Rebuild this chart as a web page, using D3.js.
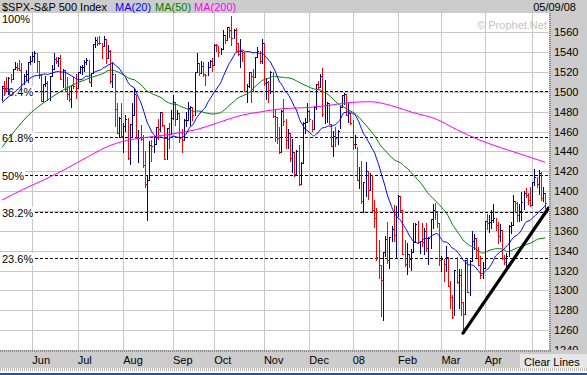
<!DOCTYPE html>
<html>
<head>
<meta charset="utf-8">
<script src="https://cdn.jsdelivr.net/npm/d3@7"></script>
<style>
  body { margin: 0; background: #fff; }
  svg { display: block; font-family: "Liberation Sans", Arial, sans-serif; }
</style>
</head>
<body>
<svg width="587" height="375"></svg>
<script>
// Daily S&P 500 bars, 05/11/07 .. 05/09/08 (one row per month)
const closes = [
  1505.85,1503.15,1501.19,1514.14,1512.75,1522.75,1525.10,1524.12,1522.28,1507.51,1515.73,1518.11,1530.23,1530.62,
  1536.34,1539.18,1530.95,1517.38,1490.72,1507.67,1509.12,1493.00,1515.67,1522.97,1532.91,1531.05,1533.70,1512.84,1522.19,1502.56,1497.74,1492.89,1506.34,1505.71,1503.35,
  1519.43,1524.87,1525.40,1530.44,1531.85,1510.12,1518.76,1547.70,1552.50,1549.52,1549.37,1546.17,1553.08,1534.10,1541.57,1511.04,1518.09,1482.66,1458.95,1473.91,1455.27,
  1465.81,1472.20,1433.06,1467.67,1476.71,1497.49,1453.09,1453.64,1452.92,1426.54,1406.70,1411.27,1445.94,1445.55,1447.12,1464.07,1462.50,1479.37,1466.79,1432.36,1463.76,1457.64,1473.99,
  1489.42,1472.29,1478.55,1453.55,1451.70,1471.49,1471.56,1483.95,1484.25,1476.65,1519.78,1529.03,1518.75,1525.75,1517.73,1517.21,1525.42,1531.38,1526.75,
  1547.04,1546.63,1539.59,1542.84,1557.59,1552.58,1565.15,1562.47,1554.41,1561.80,1548.71,1538.53,1541.24,1540.08,1500.63,1506.33,1519.59,1515.88,1514.40,1535.28,1540.98,1531.02,1549.38,
  1508.44,1509.65,1502.17,1520.27,1475.62,1474.77,1453.70,1439.18,1481.05,1470.58,1451.15,1458.74,1433.27,1439.70,1416.77,1440.70,1407.22,1428.23,1469.02,1469.72,1481.14,
  1472.42,1462.79,1485.01,1507.34,1504.66,1515.96,1477.65,1486.59,1488.41,1467.95,1445.90,1454.98,1453.00,1460.12,1484.46,1496.45,1497.66,1476.27,1478.49,1468.36,
  1447.16,1447.16,1411.63,1416.18,1390.19,1409.13,1420.33,1401.02,1416.25,1380.95,1373.20,1333.25,1325.19,1310.50,1338.60,1352.07,1330.61,1353.96,1362.30,1355.81,1378.55,
  1395.42,1380.82,1336.64,1326.45,1336.91,1331.29,1339.13,1348.86,1367.21,1348.86,1349.99,1348.78,1360.03,1342.53,1353.11,1371.80,1381.29,1380.02,1367.68,1330.63,
  1331.34,1326.75,1333.70,1304.34,1293.37,1273.37,1320.65,1308.77,1315.48,1288.14,1276.60,1330.74,1298.42,1329.51,1349.88,1352.99,1341.13,1325.76,1315.22,1322.70,
  1370.18,1367.53,1369.31,1370.40,1372.54,1365.54,1354.49,1360.55,1332.83,1328.32,1334.43,1364.71,1365.56,1390.33,1388.17,1375.94,1379.93,1388.82,1397.84,1396.37,1390.94,1385.59,
  1409.34,1413.90,1407.49,1418.26,1392.57,1397.68,1388.28
];
const highs = [
  1506.0,1510.9,1514.8,1514.8,1517.8,1522.8,1529.9,1529.2,1532.4,1529.3,1517.7,1521.8,1530.2,1535.6,
  1540.5,1540.6,1539.2,1530.9,1517.4,1507.8,1515.5,1511.3,1515.7,1526.5,1538.7,1535.4,1535.4,1537.3,1522.9,1522.2,1514.6,1506.1,1506.3,1514.8,1517.5,
  1519.5,1526.0,1526.8,1532.4,1534.3,1531.9,1519.4,1547.9,1555.1,1555.2,1555.9,1549.4,1555.9,1553.1,1547.2,1541.6,1530.4,1518.1,1488.5,1474.4,1488.3,
  1468.4,1476.4,1473.2,1467.7,1488.3,1503.9,1497.2,1462.0,1466.3,1456.7,1440.8,1416.0,1450.3,1451.8,1455.6,1464.7,1472.1,1479.4,1479.4,1466.3,1463.8,1468.4,1481.5,
  1496.4,1489.4,1481.5,1478.6,1462.8,1472.1,1479.5,1489.6,1486.0,1484.2,1519.9,1538.7,1529.0,1530.9,1530.2,1518.2,1529.7,1532.5,1533.7,
  1548.0,1548.0,1546.6,1544.0,1561.9,1557.6,1565.4,1565.4,1576.09,1563.0,1564.7,1548.7,1553.3,1541.1,1540.1,1508.1,1520.4,1519.6,1523.2,1535.5,1544.7,1541.0,1552.8,
  1549.4,1513.7,1510.8,1521.0,1520.3,1482.5,1474.8,1464.9,1481.4,1492.8,1472.5,1462.2,1458.6,1452.4,1439.7,1440.9,1446.1,1429.5,1469.3,1473.8,1488.9,
  1481.2,1471.3,1486.1,1508.0,1510.6,1518.3,1523.6,1511.4,1489.4,1488.4,1468.0,1460.2,1464.4,1461.2,1485.4,1497.0,1498.9,1497.7,1488.6,1478.4,
  1471.8,1456.8,1444.0,1423.9,1430.3,1409.2,1429.1,1420.3,1417.9,1416.3,1391.0,1383.0,1350.3,1325.2,1339.1,1355.2,1368.6,1354.0,1364.6,1385.6,1385.0,
  1396.0,1395.4,1380.8,1351.0,1347.3,1336.9,1341.2,1368.0,1368.0,1370.0,1350.0,1367.9,1363.1,1367.9,1354.1,1372.0,1387.3,1388.2,1380.0,1367.7,
  1335.1,1331.3,1344.7,1333.7,1309.7,1295.0,1320.7,1333.3,1321.7,1321.5,1288.1,1330.7,1331.3,1330.7,1359.7,1357.2,1353.0,1344.2,1334.9,1328.5,
  1370.2,1377.0,1375.7,1380.9,1386.7,1372.5,1368.4,1367.2,1360.5,1335.6,1337.7,1365.5,1368.4,1395.9,1390.3,1389.1,1387.2,1399.1,1399.7,1402.9,1397.6,1404.6,
  1409.3,1422.7,1413.9,1421.6,1419.0,1404.6,1397.7
];
const lows = [
  1491.5,1498.3,1500.4,1498.0,1509.9,1512.8,1522.7,1522.1,1521.9,1505.2,1507.5,1512.0,1510.1,1528.3,
  1530.6,1530.3,1520.0,1514.1,1490.4,1490.7,1505.8,1492.1,1492.1,1515.7,1523.0,1529.3,1525.7,1512.4,1504.8,1500.7,1492.7,1490.5,1484.2,1503.4,1493.6,
  1503.4,1519.4,1517.7,1520.5,1527.5,1510.0,1506.1,1518.8,1544.9,1546.7,1547.7,1533.7,1546.2,1529.2,1534.1,1508.6,1504.6,1465.3,1458.9,1454.3,1454.3,
  1439.6,1460.6,1432.8,1427.4,1455.8,1476.7,1453.1,1429.7,1451.5,1423.9,1404.4,1370.6,1411.3,1430.5,1439.8,1447.1,1452.5,1460.3,1465.4,1432.0,1432.4,1443.6,1457.6,
  1472.2,1466.1,1472.3,1449.1,1439.3,1451.6,1465.8,1471.6,1466.6,1471.8,1476.7,1519.8,1516.9,1518.8,1516.2,1507.1,1517.2,1525.4,1521.0,
  1526.7,1540.7,1536.3,1537.6,1542.8,1549.0,1551.9,1555.5,1546.7,1554.4,1540.8,1537.3,1525.2,1531.1,1500.3,1489.6,1504.6,1489.6,1500.5,1514.4,1535.3,1529.3,1529.4,
  1507.3,1492.5,1489.6,1499.1,1475.0,1450.3,1448.5,1438.5,1439.2,1466.5,1443.5,1443.7,1430.7,1419.3,1415.5,1417.0,1406.1,1407.2,1428.2,1458.4,1469.7,
  1470.1,1460.7,1462.8,1482.2,1502.7,1504.7,1475.9,1468.2,1469.2,1467.4,1445.2,1435.1,1445.3,1447.5,1463.8,1484.5,1488.2,1476.2,1469.5,1467.7,
  1442.1,1443.7,1411.2,1403.5,1388.3,1378.7,1395.3,1392.4,1401.0,1380.0,1364.3,1330.7,1312.5,1274.3,1270.1,1334.3,1327.5,1322.3,1350.0,1350.2,1334.1,
  1375.0,1379.7,1336.6,1324.3,1316.8,1323.8,1320.3,1339.1,1348.9,1347.3,1338.1,1345.1,1336.9,1339.3,1326.5,1342.4,1363.3,1372.0,1364.3,1325.4,
  1320.0,1309.0,1320.0,1304.0,1282.4,1272.7,1274.9,1307.2,1282.4,1274.9,1256.98,1276.6,1298.4,1295.3,1329.5,1341.2,1333.7,1325.3,1312.9,1312.8,
  1322.7,1362.2,1358.7,1362.5,1369.0,1360.6,1348.1,1350.1,1331.2,1326.4,1324.4,1334.4,1357.5,1365.6,1379.3,1370.1,1369.8,1370.9,1382.1,1394.4,1386.7,1384.6,
  1385.7,1406.3,1404.6,1397.1,1391.2,1389.9,1383.1
];
const prevClose = 1491.47; // close before the first bar, sets its colour

// x axis: month labels at the first bar of each month
const monthLabels = ['Jun', 'Jul', 'Aug', 'Sep', 'Oct', 'Nov', 'Dec', '08', 'Feb', 'Mar', 'Apr', 'May'];
const monthStarts = [14, 35, 56, 79, 98, 121, 142, 162, 183, 203, 223, 245];
const yTicks = [1240, 1260, 1280, 1300, 1320, 1340, 1360, 1380, 1400, 1420, 1440, 1460, 1480, 1500, 1520, 1540, 1560];

// fibonacci retracement of the Oct high / Mar low
const fibRatios = [1, 0.764, 0.618, 0.5, 0.382, 0.236];
const fibLabels = ['100%', '76.4%', '61.8%', '50%', '38.2%', '23.6%'];

// moving average parts that need history before the first bar
const ma20HeadIdx = [0, 3, 6, 9, 12, 15, 18];
const ma20Head = [1489, 1495, 1500, 1506, 1512, 1516, 1517];
const ma50HeadIdx = [0, 6, 12, 18, 24, 30, 36, 42, 48];
const ma50Head = [1444, 1461, 1476, 1487, 1496, 1504, 1510, 1515, 1520];
const ma200Idx = [0, 10, 20, 30, 40, 50, 60, 70, 80, 90, 100, 110, 120, 130, 140, 150, 160, 170, 180, 190, 200, 210, 220, 230, 240, 251];
const ma200 = [1391, 1402, 1412, 1423, 1435, 1446, 1452, 1455, 1458, 1462, 1469, 1476, 1480, 1483, 1484, 1486, 1489, 1490, 1486, 1479, 1473, 1462, 1452, 1444, 1437, 1429];

// hand drawn trend line (bar index, price)
const trendIdx = [213, 252.5];
const trendVal = [1256.98, 1383];

// Layout
const svg = d3.select('svg');
const plot = { left: 0, right: 549, top: 13, bottom: 350 };
const buttonX = 520;
const x = d3.scaleLinear().domain([0, 251]).range([2, 545.3]);
const y = d3.scaleLinear().domain([1240, 1560]).range([350, 32.2]);
const px = v => Math.round(v) + 0.5;

svg.append('defs').append('clipPath').attr('id', 'clip')
    .append('rect')
    .attr('x', plot.left).attr('y', plot.top)
    .attr('width', plot.right - plot.left).attr('height', plot.bottom - plot.top);

// Grid
const grid = svg.append('g').attr('stroke', '#c8c8c8').attr('shape-rendering', 'crispEdges');
grid.selectAll('.hgrid')
    .data(yTicks.filter(v => v > 1240))
    .join('line')
    .attr('class', 'hgrid')
    .attr('x1', plot.left).attr('x2', plot.right)
    .attr('y1', d => px(y(d))).attr('y2', d => px(y(d)));
grid.selectAll('.vgrid')
    .data(monthStarts)
    .join('line')
    .attr('class', 'vgrid')
    .attr('x1', d => px(x(d))).attr('x2', d => px(x(d)))
    .attr('y1', plot.top).attr('y2', plot.bottom);

// Fibonacci levels
const hi = d3.max(highs);
const lo = d3.min(lows);
const fibData = fibRatios.map((r, k) => ({ label: fibLabels[k], yy: px(y(lo + r * (hi - lo))) }));
const fib = svg.append('g');
fib.selectAll('line')
    .data(fibData.filter(d => d.label !== '100%'))
    .join('line')
    .attr('x1', plot.left).attr('x2', plot.right)
    .attr('y1', d => d.yy).attr('y2', d => d.yy)
    .attr('stroke', '#000')
    .attr('stroke-dasharray', '3,2')
    .attr('shape-rendering', 'crispEdges');
const fibText = fib.selectAll('g.fl')
    .data(fibData)
    .join('g')
    .attr('class', 'fl');
fibText.append('text')
    .attr('x', 2)
    .attr('y', d => Math.max(d.yy + 4.5, 22.5))
    .attr('font-size', '11px')
    .attr('fill', '#000')
    .text(d => d.label);
fibText.each(function () {
    const g = d3.select(this);
    const b = g.select('text').node().getBBox();
    g.insert('rect', 'text')
        .attr('x', 0).attr('y', b.y)
        .attr('width', b.x + b.width + 1).attr('height', b.height)
        .attr('fill', '#fff');
});

// Price bars
const days = closes.map((c, i) => ({
    i: i, c: c, h: highs[i], l: lows[i],
    up: c >= (i ? closes[i - 1] : prevClose)
}));
const bars = svg.append('g')
    .attr('clip-path', 'url(#clip)')
    .attr('shape-rendering', 'crispEdges');
const bar = bars.selectAll('g')
    .data(days)
    .join('g')
    .attr('stroke', d => d.up ? '#000080' : '#ff0000');
bar.append('line')
    .attr('x1', d => px(x(d.i))).attr('x2', d => px(x(d.i)))
    .attr('y1', d => Math.round(y(d.h))).attr('y2', d => Math.round(y(d.l)) + 1);
bar.append('line')
    .attr('x1', d => px(x(d.i))).attr('x2', d => px(x(d.i)) + 1.5)
    .attr('y1', d => px(y(d.c))).attr('y2', d => px(y(d.c)));

// Moving averages
const movingAvg = (n, headIdx, head) => {
    const pts = headIdx.map((k, j) => [k, head[j]]);
    for (let i = n - 1; i < closes.length; i++) {
        pts.push([i, d3.mean(closes.slice(i - n + 1, i + 1))]);
    }
    return pts;
};
const maLine = d3.line()
    .x(d => x(d[0]))
    .y(d => y(d[1]))
    .curve(d3.curveMonotoneX);
const maSeries = [
    { pts: ma200Idx.map((k, j) => [k, ma200[j]]), color: '#ff00ff' },
    { pts: movingAvg(50, ma50HeadIdx, ma50Head), color: '#008000' },
    { pts: movingAvg(20, ma20HeadIdx, ma20Head), color: '#0000ff' }
];
svg.append('g')
    .attr('clip-path', 'url(#clip)')
    .selectAll('path')
    .data(maSeries)
    .join('path')
    .attr('d', d => maLine(d.pts))
    .attr('fill', 'none')
    .attr('stroke', d => d.color)
    .attr('stroke-width', 1);

// Trend line
svg.append('g')
    .attr('clip-path', 'url(#clip)')
    .append('path')
    .attr('d', d3.line()(trendIdx.map((k, j) => [x(k), y(trendVal[j])])))
    .attr('stroke', '#000')
    .attr('stroke-width', 3.2)
    .attr('stroke-linecap', 'round')
    .attr('fill', 'none');

// Header bar
svg.append('rect').attr('x', 0).attr('y', 0).attr('width', 587).attr('height', plot.top).attr('fill', '#cccccc');
const header = [
    { t: '$SPX-S&P 500 Index', x: 2, c: '#000' },
    { t: 'MA(20)', x: 115, c: '#0000ff' },
    { t: 'MA(50)', x: 155, c: '#008000' },
    { t: 'MA(200)', x: 194, c: '#ff00ff' }
];
svg.selectAll('.hdr')
    .data(header)
    .join('text')
    .attr('class', 'hdr')
    .attr('x', d => d.x).attr('y', 11)
    .attr('font-size', '11px')
    .attr('fill', d => d.c)
    .text(d => d.t);
svg.append('text')
    .attr('x', 576).attr('y', 11)
    .attr('text-anchor', 'end')
    .attr('font-size', '11px')
    .text('05/09/08');
svg.append('text')
    .attr('x', 547).attr('y', 29)
    .attr('text-anchor', 'end')
    .attr('font-size', '11px')
    .attr('fill', '#c4c4c4')
    .text('\u00a9 Prophet.Net');

// Right price axis
svg.append('rect').attr('x', plot.right).attr('y', plot.top).attr('width', 587 - plot.right).attr('height', plot.bottom - plot.top).attr('fill', '#cccccc');
svg.append('line')
    .attr('x1', plot.right + 1).attr('x2', plot.right + 1)
    .attr('y1', plot.top).attr('y2', plot.bottom + 2)
    .attr('stroke', '#888').attr('stroke-width', 2).attr('stroke-dasharray', '1,1');
svg.append('g')
    .attr('transform', `translate(${plot.right},0)`)
    .call(d3.axisRight(y).tickValues(yTicks).tickSize(0).tickPadding(5).tickFormat(d3.format('d')))
    .call(g => g.select('.domain').remove())
    .call(g => g.selectAll('text')
        .attr('font-family', '"Liberation Sans", Arial, sans-serif')
        .attr('font-size', '11px')
        .attr('fill', '#000'));

// Bottom date axis
svg.append('rect').attr('x', 0).attr('y', plot.bottom).attr('width', 587).attr('height', 18).attr('fill', '#cccccc');
svg.append('line')
    .attr('x1', 0).attr('x2', plot.right + 2)
    .attr('y1', plot.bottom + 1).attr('y2', plot.bottom + 1)
    .attr('stroke', '#888').attr('stroke-width', 2).attr('stroke-dasharray', '1,1');
svg.append('line')
    .attr('x1', 0).attr('x2', 587)
    .attr('y1', 369.5).attr('y2', 369.5)
    .attr('stroke', '#bbb').attr('stroke-width', 3).attr('stroke-dasharray', '1,1');
svg.append('rect').attr('x', 0).attr('y', 373).attr('width', 587).attr('height', 2).attr('fill', '#2456a8');
// the last month label sits under the Clear Lines button, so it is not shown
svg.selectAll('.month')
    .data(monthStarts.filter(d => x(d) + 20 < buttonX))
    .join('text')
    .attr('class', 'month')
    .attr('x', d => x(d))
    .attr('y', 364)
    .attr('font-size', '11px')
    .text((d, k) => monthLabels[k]);

// Clear Lines button
svg.append('rect')
    .attr('x', buttonX).attr('y', 354).attr('width', 587 - buttonX).attr('height', 14)
    .attr('fill', '#e6e6e6');
svg.append('text')
    .attr('x', buttonX + 4).attr('y', 365.5)
    .attr('font-size', '11px')
    .text('Clear Lines');
</script>
</body>
</html>
